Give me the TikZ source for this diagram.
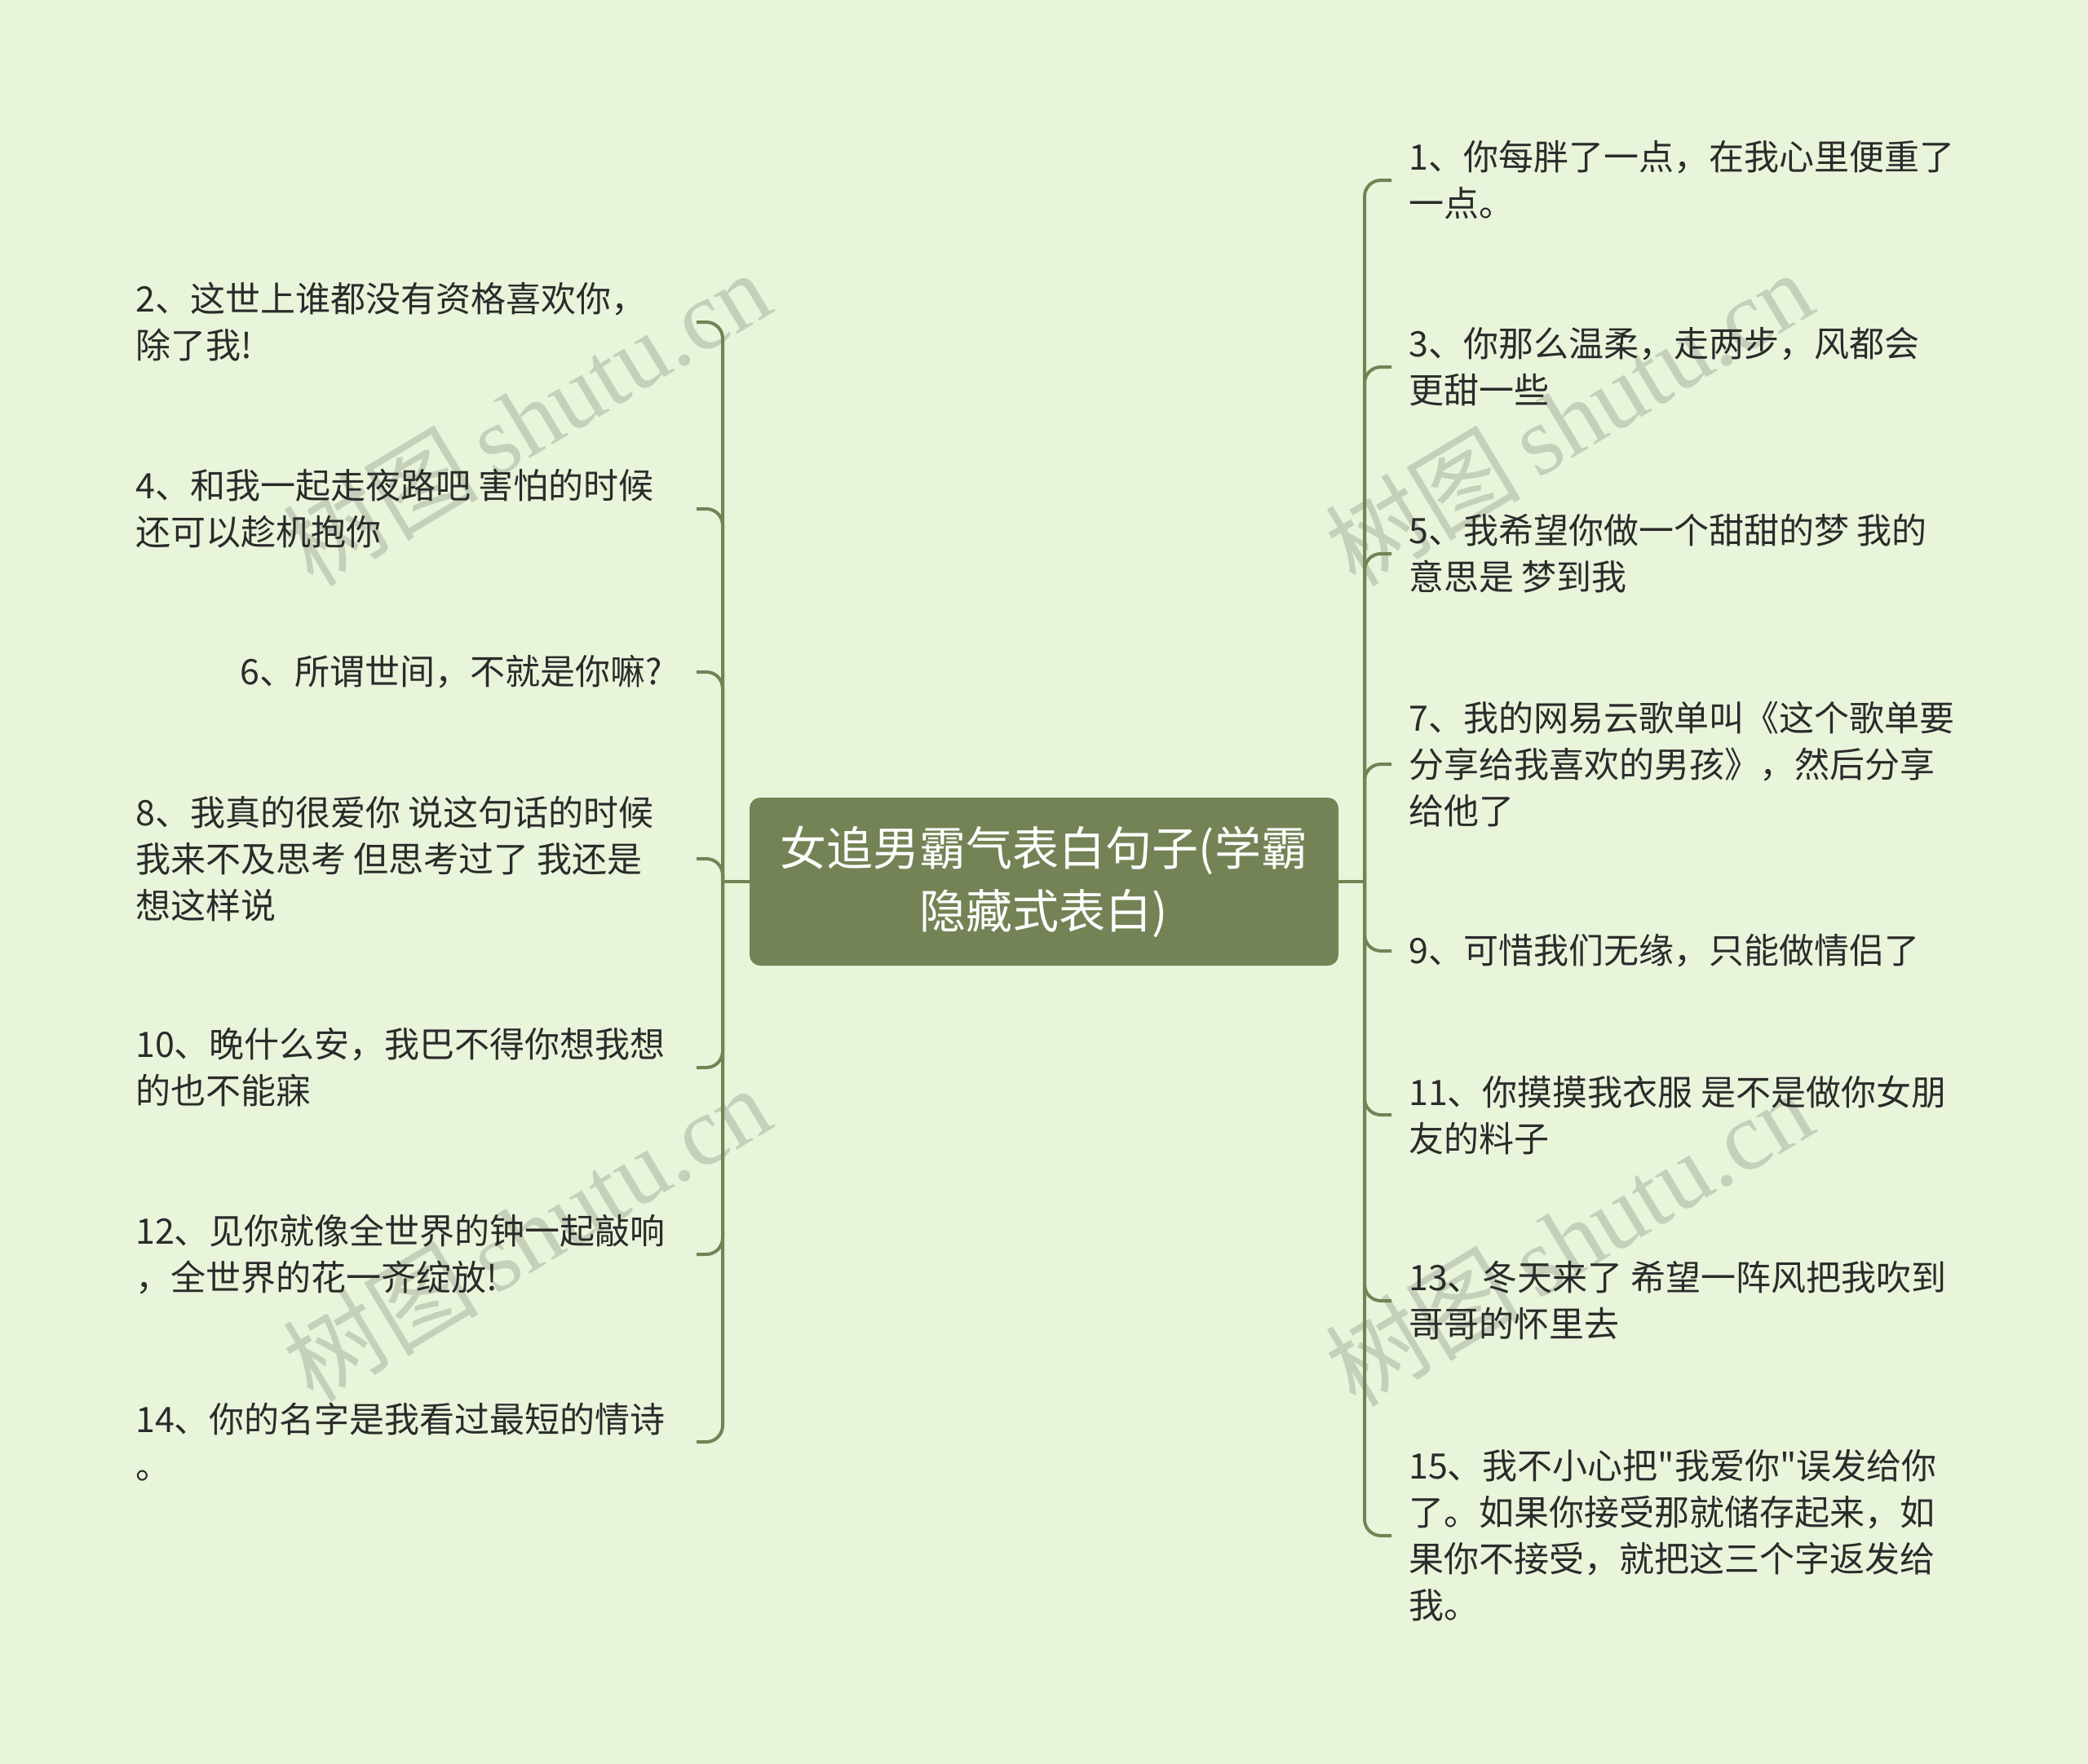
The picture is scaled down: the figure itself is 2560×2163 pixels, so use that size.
\documentclass[tikz,border=0pt]{standalone}
\usepackage{fontspec}
\setmainfont{Noto Sans CJK SC}[Ligatures=TeXOff]
\newfontfamily\cjk{Noto Sans CJK SC}[Ligatures=TeXOff]
\newfontfamily\wmserif{Liberation Serif}
\usetikzlibrary{calc}
\definecolor{bgc}{HTML}{E9F5DB}
\definecolor{linec}{HTML}{738355}
\definecolor{rootc}{HTML}{738355}
\definecolor{txtc}{HTML}{2B2B2B}
\definecolor{wmc}{HTML}{C5D0BA}
\begin{document}
\begin{tikzpicture}[x=1pt,y=-1pt,
  leaf/.style={inner sep=0pt, align=left, text=txtc, font=\fontsize{43}{57}\selectfont},
  rootbox/.style={fill=rootc, rounded corners=13pt, minimum width=722pt, minimum height=206pt, align=center, text=white, font=\fontsize{57}{77}\selectfont, inner sep=0pt},
  conn/.style={draw=linec, line width=4pt},
  branch/.style={conn, rounded corners=20pt},
  wm/.style={text=wmc, rotate=31, font=\fontsize{120}{120}\selectfont}
]
\fill[bgc] (0,0) rectangle (2560,2163);
\useasboundingbox (0,0) rectangle (2560,2163);

% watermarks
\node[wm] (w1) at (645,512) {\cjk 树图\,\wmserif shutu.cn};
\node[wm] (w2) at (1923,512) {\cjk 树图\,\wmserif shutu.cn};
\node[wm] (w3) at (645,1512) {\cjk 树图\,\wmserif shutu.cn};
\node[wm] (w4) at (1923,1518) {\cjk 树图\,\wmserif shutu.cn};

% root
\node[rootbox] (root) at (1280,1081) {女追男霸气表白句子(学霸\\隐藏式表白)};

\coordinate (lt) at (886,1081);
\coordinate (lx) at (854,0);
\coordinate (rt) at (1673,1081);
\coordinate (rx) at (1706,0);

% left leaves
\node[leaf, anchor=west] (l2) at (166,395) {2、这世上谁都没有资格喜欢你，\\除了我!};
\node[leaf, anchor=west] (l4) at (166,624) {4、和我一起走夜路吧 害怕的时候\\还可以趁机抱你};
\node[leaf, anchor=east] (l6) at (812,824) {6、所谓世间，不就是你嘛?};
\node[leaf, anchor=west] (l8) at (166,1053) {8、我真的很爱你 说这句话的时候\\我来不及思考 但思考过了 我还是\\想这样说};
\node[leaf, anchor=west] (l10) at (166,1309) {10、晚什么安，我巴不得你想我想\\的也不能寐};
\node[leaf, anchor=west] (l12) at (166,1538) {12、见你就像全世界的钟一起敲响\\，全世界的花一齐绽放!};
\node[leaf, anchor=west] (l14) at (166,1768) {14、你的名字是我看过最短的情诗\\。};

% right leaves
\node[leaf, anchor=west] (r1) at (1727,221) {1、你每胖了一点，在我心里便重了\\一点。};
\node[leaf, anchor=west] (r3) at (1727,450) {3、你那么温柔，走两步，风都会\\更甜一些};
\node[leaf, anchor=west] (r5) at (1727,679) {5、我希望你做一个甜甜的梦 我的\\意思是 梦到我};
\node[leaf, anchor=west] (r7) at (1727,937) {7、我的网易云歌单叫《这个歌单要\\分享给我喜欢的男孩》，然后分享\\给他了};
\node[leaf, anchor=west] (r9) at (1727,1166) {9、可惜我们无缘，只能做情侣了};
\node[leaf, anchor=west] (r11) at (1727,1367) {11、你摸摸我衣服 是不是做你女朋\\友的料子};
\node[leaf, anchor=west] (r13) at (1727,1595) {13、冬天来了 希望一阵风把我吹到\\哥哥的怀里去};
\node[leaf, anchor=west] (r15) at (1727,1883) {15、我不小心把"我爱你"误发给你\\了。如果你接受那就储存起来，如\\果你不接受，就把这三个字返发给\\我。};

% connectors
\draw[conn] (root.west) -- (lt);
\draw[conn] (root.east) -- (rt);
\foreach \n in {l2,l4,l6,l8,l10,l12,l14}{
  \draw[branch] (lt) |- (lx |- \n);
}
\foreach \n in {r1,r3,r5,r7,r9,r11,r13,r15}{
  \draw[branch] (rt) |- (rx |- \n);
}
\end{tikzpicture}
\end{document}
